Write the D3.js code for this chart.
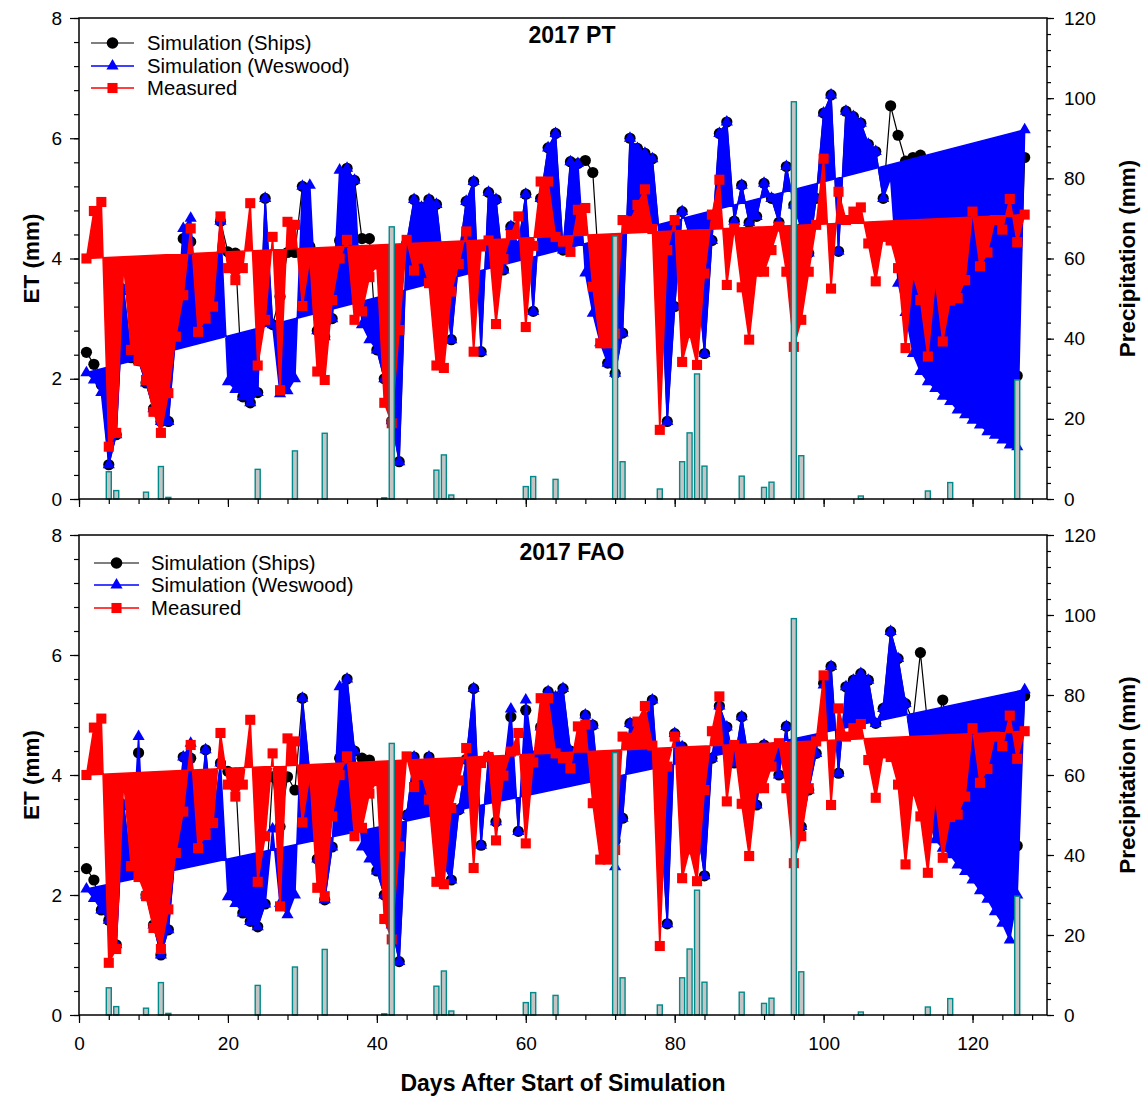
<!DOCTYPE html>
<html>
<head>
<meta charset="utf-8">
<script src="https://cdn.jsdelivr.net/npm/d3@7"></script>
<style>
    body { margin: 0; background: #fff; }
    svg { display: block; font-family: Arial, "Liberation Sans", sans-serif; }
</style>
</head>
<body>
<svg id="chart" width="1146" height="1097"></svg>
<script>
// ============================================================================
// DATA - daily ET (mm) for days 1..127, precipitation events (mm)
// ============================================================================

const days = d3.range(1, 128);

const measured = [
    4.0, 4.79, 4.94, 0.87, 1.1, 3.9, 2.48, 2.3, 1.98, 1.45,
    1.1, 1.76, 2.7, 3.39, 4.5, 2.78, 3.0, 3.2, 4.7, 3.84,
    3.64, 3.84, 4.92, 2.22, 2.98, 4.36, 1.81, 4.61, 4.56, 3.21,
    4.0, 2.12, 1.98, 3.31, 4.0, 4.31, 2.98, 3.12, 3.69, 3.9,
    1.6, 1.26, 2.81, 4.31, 3.8, 4.0, 3.59, 2.22, 2.18, 3.45,
    3.91, 4.45, 2.45, 4.2, 4.3, 2.91, 3.99, 4.39, 4.7, 2.86,
    4.21, 5.28, 5.28, 4.36, 4.28, 4.11, 4.81, 4.84, 3.53, 2.59,
    2.59, 2.75, 4.64, 4.62, 4.89, 5.15, 4.49, 1.15, 4.14, 4.64,
    2.28, 2.76, 2.23, 3.75, 4.73, 5.31, 3.56, 4.5, 3.52, 2.65,
    3.78, 3.78, 4.14, 4.53, 3.78, 2.53, 2.98, 3.78, 4.56, 5.66,
    3.5, 5.11, 4.64, 4.78, 4.85, 4.25, 3.62, 4.36, 4.3, 3.84,
    2.51, 3.73, 3.31, 2.37, 3.63, 2.62, 3.3, 3.34, 3.64, 4.78,
    3.87, 4.1, 4.64, 4.48, 4.99, 4.27, 4.73
];

const shipsPT = [
    2.44, 2.24, 1.9, 0.57, 1.07, 3.48, 2.35, 2.3, 1.93, 1.5,
    1.29, 1.29, 2.76, 4.33, 4.28, 2.81, 3.0, 3.2, 4.62, 4.11,
    4.09, 1.7, 1.6, 1.77, 5.0, 2.9, 3.37, 4.1, 4.1, 5.2,
    4.2, 2.8, 2.7, 3.0, 4.3, 5.5, 5.3, 4.33, 4.33, 2.48,
    2.0, 1.3, 0.62, 4.25, 4.98, 4.85, 4.98, 4.9, 3.8, 2.65,
    4.0, 4.95, 5.28, 2.45, 5.1, 4.98, 3.81, 4.53, 4.2, 5.07,
    3.12, 5.0, 5.84, 6.08, 4.14, 5.61, 5.58, 5.63, 5.43, 3.5,
    2.26, 2.09, 2.76, 6.0, 5.83, 5.75, 5.66, 4.3, 1.29, 3.2,
    4.78, 4.4, 3.8, 2.42, 4.3, 6.08, 6.27, 4.62, 5.22, 4.6,
    4.7, 5.25, 5.0, 4.6, 5.53, 4.89, 4.5, 4.09, 5.0, 6.42,
    6.72, 4.12, 6.45, 6.36, 6.25, 5.9, 5.78, 5.0, 6.54, 6.05,
    5.62, 5.68, 5.72, 4.6, 4.5, 4.3, 4.1, 3.9, 3.7, 3.5,
    3.3, 3.1, 2.9, 2.7, 2.5, 2.05, 5.68
];

const weswoodPT = [
    2.1, 1.98, 1.77, 0.57, 1.07, 3.48, 2.35, 2.3, 1.93, 1.5,
    1.29, 1.29, 2.76, 4.5, 4.67, 2.81, 3.0, 3.2, 4.62, 1.95,
    1.82, 1.7, 1.6, 1.77, 5.0, 2.9, 1.75, 1.8, 2.0, 5.2,
    5.22, 2.8, 2.7, 3.0, 5.47, 5.5, 5.3, 2.9, 2.65, 2.48,
    2.0, 1.3, 0.62, 4.25, 4.98, 4.85, 4.98, 4.9, 3.8, 2.65,
    4.0, 4.95, 5.28, 2.45, 5.1, 4.98, 3.81, 4.53, 4.2, 5.07,
    3.12, 5.0, 5.84, 6.08, 4.14, 5.61, 5.58, 3.76, 3.09, 2.6,
    2.26, 2.09, 2.76, 6.0, 5.83, 5.75, 5.66, 4.3, 1.29, 3.2,
    4.78, 4.4, 3.8, 2.42, 4.3, 6.08, 6.27, 4.62, 5.22, 4.6,
    4.7, 5.25, 5.0, 4.6, 5.53, 4.89, 4.5, 4.09, 5.0, 6.42,
    6.72, 4.12, 6.45, 6.36, 6.25, 5.9, 5.78, 5.0, 5.34, 3.59,
    3.1, 2.42, 2.12, 1.95, 1.84, 1.71, 1.62, 1.48, 1.4, 1.31,
    1.23, 1.12, 1.06, 0.98, 0.9, 0.87, 6.14
];

const shipsFAO = [
    2.44, 2.25, 1.75, 1.58, 1.17, 3.5, 2.45, 4.37, 2.0, 1.5,
    1.0, 1.42, 2.8, 4.3, 4.28, 3.0, 4.42, 3.2, 4.2, 4.06,
    4.03, 1.7, 1.56, 1.47, 1.85, 3.97, 3.14, 3.97, 3.75, 5.28,
    4.0, 2.6, 1.92, 2.8, 4.28, 5.6, 4.4, 4.28, 4.25, 2.4,
    2.0, 1.5, 0.89, 3.33, 4.3, 4.1, 4.3, 3.5, 2.5, 2.25,
    3.42, 4.26, 5.44, 2.83, 4.3, 3.22, 4.0, 4.97, 3.06, 5.08,
    4.3, 4.8, 5.39, 5.3, 5.44, 4.4, 4.4, 5.0, 4.83, 3.5,
    3.0, 2.9, 3.28, 4.86, 4.7, 4.9, 5.25, 3.5, 1.52, 4.69,
    4.47, 3.8, 3.2, 2.32, 4.28, 5.15, 4.8, 4.2, 4.97, 4.2,
    3.5, 4.5, 4.3, 4.0, 4.81, 3.6, 3.14, 3.75, 4.36, 5.53,
    5.81, 4.03, 5.47, 5.58, 5.69, 5.58, 4.86, 5.11, 6.39, 5.94,
    5.19, 4.9, 6.04, 4.8, 4.7, 5.25, 4.4, 4.2, 4.0, 3.8,
    3.6, 3.4, 3.2, 3.0, 2.9, 2.82, 5.32
];

const weswoodFAO = [
    2.1, 1.94, 1.75, 1.58, 1.17, 3.5, 2.45, 4.64, 2.0, 1.5,
    1.0, 1.42, 2.8, 4.3, 4.53, 3.0, 4.42, 3.2, 4.2, 1.97,
    1.86, 1.7, 1.56, 1.47, 1.85, 3.1, 1.86, 1.67, 2.0, 5.28,
    4.0, 2.6, 1.92, 2.8, 5.47, 5.6, 4.4, 2.8, 2.6, 2.4,
    2.0, 1.5, 0.89, 3.33, 4.3, 4.1, 4.3, 3.5, 2.5, 2.25,
    3.42, 4.26, 5.44, 2.83, 4.3, 3.22, 4.0, 5.1, 3.06, 5.25,
    4.3, 4.8, 5.39, 5.3, 5.44, 4.4, 4.4, 5.0, 4.83, 3.5,
    3.0, 2.47, 3.28, 4.86, 4.7, 4.9, 5.25, 3.5, 1.52, 4.69,
    4.47, 3.8, 3.2, 2.32, 4.28, 5.15, 4.8, 4.2, 4.97, 4.2,
    3.5, 4.5, 4.3, 4.0, 4.81, 3.6, 3.14, 3.75, 4.36, 5.5,
    5.81, 4.03, 5.47, 5.58, 5.69, 5.58, 4.86, 5.11, 6.39, 5.94,
    5.19, 4.3, 3.8, 3.3, 2.92, 2.78, 2.67, 2.5, 2.39, 2.25,
    2.07, 1.93, 1.72, 1.53, 1.25, 2.0, 5.42
];

const rainDays = [4, 5, 9, 11, 12, 24, 29, 33, 41, 42, 48, 49, 50, 60, 61, 64, 72, 73, 78,
    81, 82, 83, 84, 89, 92, 93, 96, 97, 105, 114, 117, 126];
const rainMm = [6.8, 2.1, 1.7, 8.1, 0.4, 7.4, 12, 16.4, 0.3, 67.9, 7.2, 11, 1, 3.1, 5.6, 4.9, 65.6, 9.3, 2.5,
    9.3, 16.5, 31.2, 8.2, 5.7, 2.9, 4.2, 99.1, 10.8, 0.75, 2, 4.1, 29.7];

const etTicks = [0, 2, 4, 6, 8];
const rainTicks = [0, 20, 40, 60, 80, 100, 120];
const dayTicks = [0, 20, 40, 60, 80, 100, 120];
const legendLabels = ["Simulation (Ships)", "Simulation (Weswood)", "Measured"];

// ============================================================================
// LAYOUT
// ============================================================================

const svg = d3.select("#chart");
const left = 79, right = 1047;
const font = 'Arial, "Liberation Sans", sans-serif';

const x = d3.scaleLinear().domain([0, 130]).range([left, right]);

const panels = [
    { title: "2017 PT", top: 18, bottom: 499, ships: shipsPT, weswood: weswoodPT,
      legend: { x0: 91, x1: 134, text: 147, rows: [43, 66, 88], size: 20.3 }, xLabels: false },
    { title: "2017 FAO", top: 535, bottom: 1015, ships: shipsFAO, weswood: weswoodFAO,
      legend: { x0: 94, x1: 139, text: 151, rows: [563, 585, 608], size: 20.3 }, xLabels: true }
];

const triangle = d3.symbol().type(d3.symbolTriangle).size(64);
const square = d3.symbol().type(d3.symbolSquare).size(102);

function drawPanel(p) {
    const y = d3.scaleLinear().domain([0, 8]).range([p.bottom, p.top]);
    const yRain = d3.scaleLinear().domain([0, 120]).range([p.bottom, p.top]);
    const g = svg.append("g");

    const line = d3.line()
        .x((d, i) => x(days[i]))
        .y(d => y(d));

    // Ships - plain line with circles
    g.append("path")
        .attr("d", line(p.ships))
        .attr("fill", "none")
        .attr("stroke", "#000")
        .attr("stroke-width", 1.2);

    g.selectAll(".ships")
        .data(p.ships)
        .enter()
        .append("circle")
        .attr("cx", (d, i) => x(days[i]))
        .attr("cy", d => y(d))
        .attr("r", 5.6)
        .attr("fill", "#000");

    // Weswood - closed polygon fill
    g.append("path")
        .attr("d", line(p.weswood) + "Z")
        .attr("fill", "#0000ff")
        .attr("stroke", "#0000ff")
        .attr("stroke-width", 1.5);

    g.selectAll(".wes")
        .data(p.weswood)
        .enter()
        .append("path")
        .attr("transform", (d, i) => `translate(${x(days[i])},${y(d)})`)
        .attr("d", triangle)
        .attr("fill", "#0000ff");

    // Measured - closed polygon fill
    g.append("path")
        .attr("d", line(measured) + "Z")
        .attr("fill", "#ff0000")
        .attr("stroke", "#ff0000")
        .attr("stroke-width", 1.5);

    g.selectAll(".meas")
        .data(measured)
        .enter()
        .append("path")
        .attr("transform", (d, i) => `translate(${x(days[i])},${y(d)})`)
        .attr("d", square)
        .attr("fill", "#ff0000");

    // Precipitation bars
    g.selectAll(".rain")
        .data(rainMm)
        .enter()
        .append("rect")
        .attr("x", (d, i) => x(rainDays[i]) - 2.5)
        .attr("y", d => yRain(d))
        .attr("width", 5)
        .attr("height", d => p.bottom - yRain(d))
        .attr("fill", "#c4c4c4")
        .attr("stroke", "#008a8a")
        .attr("stroke-width", 1.4);

    // Axes
    const styleAxis = sel => {
        sel.select(".domain").remove();
        sel.selectAll("line").attr("stroke", "#000").attr("stroke-width", 1.2);
        sel.selectAll("text").attr("fill", "#000").style("font-size", "19px").style("font-family", font);
    };

    g.append("g")
        .attr("transform", `translate(${left},0)`)
        .call(d3.axisLeft(y).tickValues(d3.range(0, 8.01, 0.4)).tickSize(5).tickFormat(""))
        .call(styleAxis);
    g.append("g")
        .attr("transform", `translate(${left},0)`)
        .call(d3.axisLeft(y).tickValues(etTicks).tickSize(9).tickPadding(8).tickFormat(d3.format("d")))
        .call(styleAxis);

    g.append("g")
        .attr("transform", `translate(${right},0)`)
        .call(d3.axisRight(yRain).tickValues(d3.range(0, 121, 4)).tickSize(4).tickFormat(""))
        .call(styleAxis);
    g.append("g")
        .attr("transform", `translate(${right},0)`)
        .call(d3.axisRight(yRain).tickValues(rainTicks).tickSize(7).tickPadding(10).tickFormat(d3.format("d")))
        .call(styleAxis);

    g.append("g")
        .attr("transform", `translate(0,${p.bottom})`)
        .call(d3.axisBottom(x).tickValues(d3.range(0, 129, 4)).tickSize(5).tickFormat(""))
        .call(styleAxis);
    g.append("g")
        .attr("transform", `translate(0,${p.bottom})`)
        .call(d3.axisBottom(x).tickValues(dayTicks).tickSize(8).tickPadding(14)
            .tickFormat(p.xLabels ? d3.format("d") : ""))
        .call(styleAxis);

    // Frame
    g.append("rect")
        .attr("x", left)
        .attr("y", p.top)
        .attr("width", right - left)
        .attr("height", p.bottom - p.top)
        .attr("fill", "none")
        .attr("stroke", "#000")
        .attr("stroke-width", 1.5);

    // Panel title
    g.append("text")
        .attr("x", 572)
        .attr("y", p.top + 25)
        .attr("text-anchor", "middle")
        .style("font-size", "23px")
        .style("font-weight", "bold")
        .text(p.title);

    // Axis titles
    const mid = (p.top + p.bottom) / 2;
    g.append("text")
        .attr("transform", `translate(39,${mid}) rotate(-90)`)
        .attr("text-anchor", "middle")
        .style("font-size", "22.5px")
        .style("font-weight", "bold")
        .text("ET (mm)");
    g.append("text")
        .attr("transform", `translate(1135,${mid}) rotate(-90)`)
        .attr("text-anchor", "middle")
        .style("font-size", "22.5px")
        .style("font-weight", "bold")
        .text("Precipitation (mm)");

    // Legend
    const L = p.legend;
    const xm = (L.x0 + L.x1) / 2;
    const colors = ["#000", "#0000ff", "#ff0000"];
    legendLabels.forEach((label, i) => {
        const yy = L.rows[i];
        g.append("line")
            .attr("x1", L.x0).attr("x2", L.x1)
            .attr("y1", yy).attr("y2", yy)
            .attr("stroke", colors[i])
            .attr("stroke-width", i === 0 ? 1.2 : 1.5);
        if (i === 0) {
            g.append("circle").attr("cx", xm).attr("cy", yy).attr("r", 5.8).attr("fill", "#000");
        } else {
            g.append("path")
                .attr("transform", `translate(${xm},${yy})`)
                .attr("d", i === 1 ? triangle : square)
                .attr("fill", colors[i]);
        }
        g.append("text")
            .attr("x", L.text)
            .attr("y", yy)
            .attr("dy", "0.36em")
            .style("font-size", `${L.size}px`)
            .text(label);
    });
}

panels.forEach(drawPanel);

svg.append("text")
    .attr("x", 563)
    .attr("y", 1091)
    .attr("text-anchor", "middle")
    .style("font-size", "23px")
    .style("font-weight", "bold")
    .text("Days After Start of Simulation");
</script>
</body>
</html>
